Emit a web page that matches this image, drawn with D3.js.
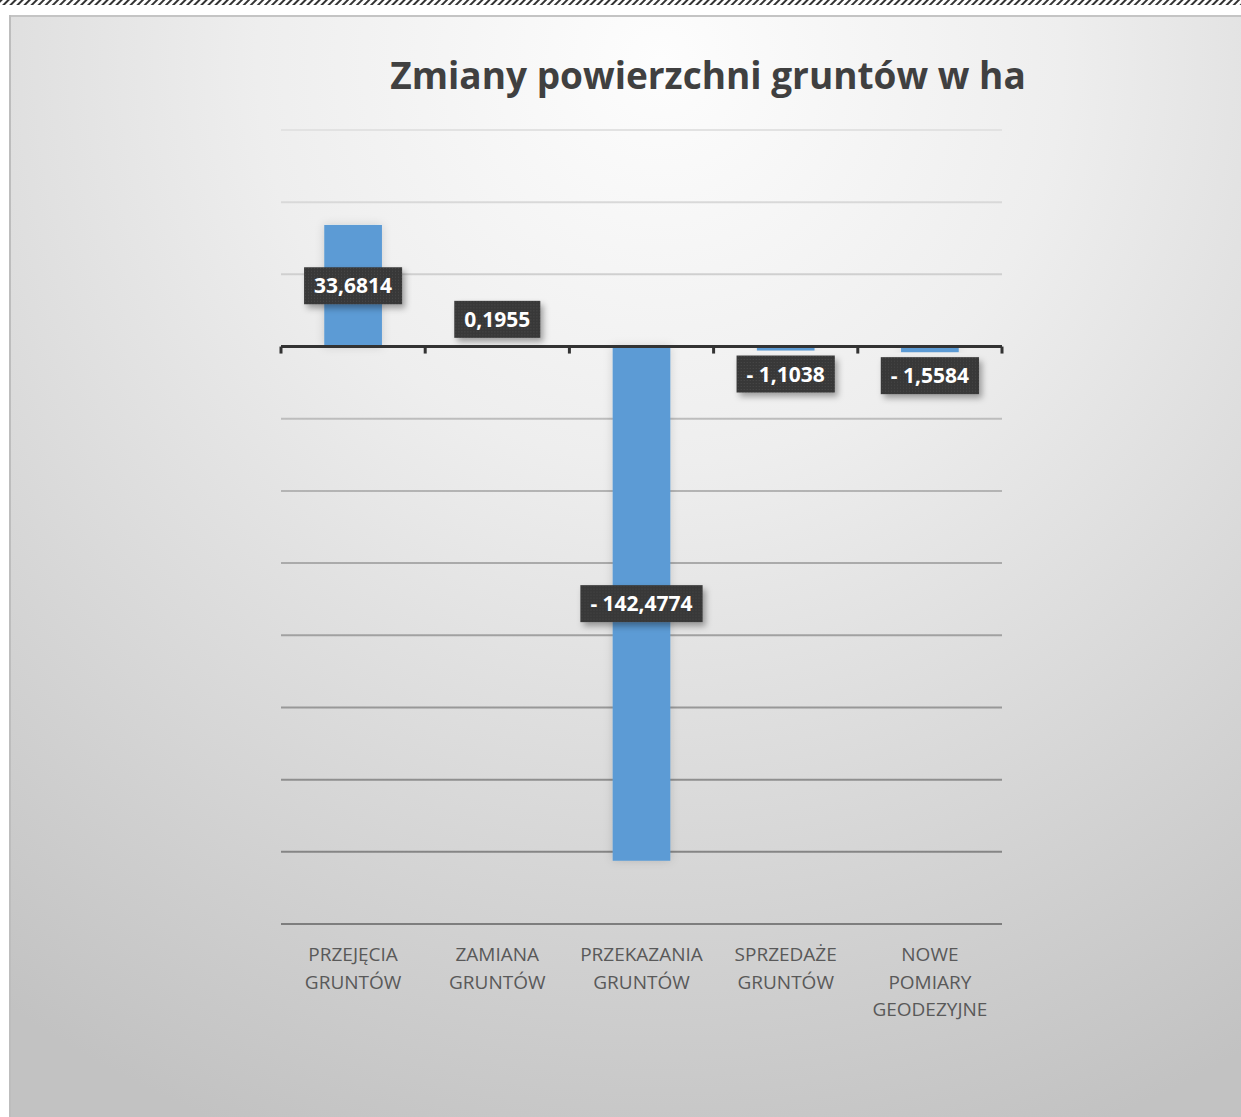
<!DOCTYPE html>
<html>
<head>
<meta charset="utf-8">
<script src="https://cdn.jsdelivr.net/npm/d3@7"></script>
<style>
  body { margin: 0; background: #fff; }
  svg { display: block; }
</style>
</head>
<body>
<script>
// chart data
var categories = [
  ["PRZEJĘCIA", "GRUNTÓW"],
  ["ZAMIANA", "GRUNTÓW"],
  ["PRZEKAZANIA", "GRUNTÓW"],
  ["SPRZEDAŻE", "GRUNTÓW"],
  ["NOWE", "POMIARY", "GEODEZYJNE"]
];
var values = [33.6814, 0.1955, -142.4774, -1.1038, -1.5584];
var yTicks = [-160, -140, -120, -100, -80, -60, -40, -20, 0, 20, 40, 60];
var title = "Zmiany powierzchni gruntów w ha";

// canvas magic numbers
var w = 1241;
var h = 1117;
var plotLeft = 281;
var plotRight = 1002;
var plotTop = 130;
var plotBottom = 924;

var svg = d3.select("body").append("svg")
    .attr("width", w)
    .attr("height", h);

var defs = svg.append("defs");

// hatched strip at the very top
var hatch = defs.append("pattern")
    .attr("id", "hatch")
    .attr("patternUnits", "userSpaceOnUse")
    .attr("width", 5).attr("height", 5)
    .attr("patternTransform", "rotate(45)");
hatch.append("rect").attr("width", 5).attr("height", 5).attr("fill", "#fff");
hatch.append("rect").attr("width", 2).attr("height", 5).attr("fill", "#333");

// background gradient of the chart area
var bg = defs.append("radialGradient")
    .attr("id", "bg")
    .attr("gradientUnits", "userSpaceOnUse")
    .attr("cx", 660).attr("cy", 60)
    .attr("r", 1150);
bg.append("stop").attr("offset", "0%").attr("stop-color", "#fdfdfd");
bg.append("stop").attr("offset", "35%").attr("stop-color", "#eeeeee");
bg.append("stop").attr("offset", "100%").attr("stop-color", "#c2c2c2");

// gridline colour fades from top to bottom
var gridGrad = defs.append("linearGradient")
    .attr("id", "gridGrad")
    .attr("gradientUnits", "userSpaceOnUse")
    .attr("x1", 0).attr("y1", plotTop).attr("x2", 0).attr("y2", plotBottom);
gridGrad.append("stop").attr("offset", "0%").attr("stop-color", "#e2e2e2");
gridGrad.append("stop").attr("offset", "100%").attr("stop-color", "#7c7c7c");

// dotted texture for label boxes
var dots = defs.append("pattern")
    .attr("id", "dots")
    .attr("patternUnits", "userSpaceOnUse")
    .attr("width", 3).attr("height", 3);
dots.append("rect").attr("width", 3).attr("height", 3).attr("fill", "#383838");
dots.append("rect").attr("width", 1).attr("height", 1).attr("fill", "#4a4a4a");

var shadow = defs.append("filter")
    .attr("id", "shadow")
    .attr("x", "-30%").attr("y", "-30%")
    .attr("width", "160%").attr("height", "180%");
shadow.append("feDropShadow")
    .attr("dx", 3).attr("dy", 4)
    .attr("stdDeviation", 3)
    .attr("flood-color", "#000")
    .attr("flood-opacity", 0.35);

var glow = defs.append("filter")
    .attr("id", "glow")
    .attr("x", "-40%").attr("y", "-10%")
    .attr("width", "180%").attr("height", "120%");
glow.append("feDropShadow")
    .attr("dx", 0).attr("dy", 0)
    .attr("stdDeviation", 5)
    .attr("flood-color", "#000")
    .attr("flood-opacity", 0.15);

svg.append("rect")
    .attr("x", 0).attr("y", 0)
    .attr("width", w).attr("height", 5)
    .attr("fill", "url(#hatch)");

// frame
svg.append("rect")
    .attr("x", 9).attr("y", 15)
    .attr("width", w - 9).attr("height", h - 15)
    .attr("fill", "url(#bg)");
svg.append("line")
    .attr("x1", 9).attr("x2", w).attr("y1", 16).attr("y2", 16)
    .attr("stroke", "#c4c4c4").attr("stroke-width", 2);
svg.append("line")
    .attr("x1", 10).attr("x2", 10).attr("y1", 15).attr("y2", h)
    .attr("stroke", "#bdbdbd").attr("stroke-width", 2);

// title
svg.append("text")
    .attr("x", 708)
    .attr("y", 89)
    .attr("text-anchor", "middle")
    .attr("font-family", "'Open Sans', sans-serif")
    .attr("font-weight", "bold")
    .attr("font-size", 37)
    .attr("fill", "#404040")
    .text(title);

// scales
var x = d3.scaleBand()
    .domain(d3.range(values.length))
    .range([plotLeft, plotRight])
    .paddingInner(0.6)
    .paddingOuter(0.3);

var y = d3.scaleLinear()
    .domain([-160, 60])
    .range([plotBottom, plotTop]);

// gridlines
svg.append("g")
    .selectAll("line")
    .data(yTicks.filter(function(d) { return d !== 0; }))
    .enter().append("line")
    .attr("x1", plotLeft).attr("x2", plotRight)
    .attr("y1", function(d) { return y(d); })
    .attr("y2", function(d) { return y(d); })
    .attr("stroke", "url(#gridGrad)")
    .attr("stroke-width", 2);
svg.append("line")
    .attr("x1", plotLeft).attr("x2", plotRight)
    .attr("y1", y(-160)).attr("y2", y(-160))
    .attr("stroke", "#7e7e7e")
    .attr("stroke-width", 2);

// bars
svg.append("g")
    .selectAll("rect")
    .data(values)
    .enter().append("rect")
    .attr("x", function(d, i) { return x(i); })
    .attr("y", function(d) { return y(Math.max(0, d)); })
    .attr("width", x.bandwidth())
    .attr("height", function(d) { return Math.max(1, Math.abs(y(d) - y(0))); })
    .attr("fill", "#5b9bd5")
    .attr("filter", "url(#glow)");

// zero axis with ticks at the category boundaries
var step = x.step();
var bounds = d3.range(values.length + 1).map(function(i) { return plotLeft + i * step; });
var axis = svg.append("g");
axis.append("line")
    .attr("x1", plotLeft).attr("x2", plotRight)
    .attr("y1", y(0)).attr("y2", y(0))
    .attr("stroke", "#333")
    .attr("stroke-width", 3);
axis.selectAll("line.tick")
    .data(bounds)
    .enter().append("line")
    .attr("class", "tick")
    .attr("x1", function(d) { return d; })
    .attr("x2", function(d) { return d; })
    .attr("y1", y(0))
    .attr("y2", y(0) + 7)
    .attr("stroke", "#333")
    .attr("stroke-width", 3);

// category labels
var catG = svg.append("g")
    .selectAll("text")
    .data(categories)
    .enter().append("text")
    .attr("text-anchor", "middle")
    .attr("font-family", "'Open Sans', sans-serif")
    .attr("font-size", 19)
    .attr("fill", "#595959");
catG.selectAll("tspan")
    .data(function(d, i) { return d.map(function(s) { return {s: s, i: i}; }); })
    .enter().append("tspan")
    .attr("x", function(d) { return x(d.i) + x.bandwidth() / 2; })
    .attr("y", function(d, j) { return 961 + j * 27.5; })
    .text(function(d) { return d.s; });

// data labels
var num = d3.formatLocale({decimal: ",", thousands: " ", grouping: [3], currency: ["", ""]}).format(".4f");
function fmtVal(v) { return v < 0 ? "- " + num(-v) : num(v); }

var boxH = 37;
var labels = svg.append("g")
    .selectAll("g")
    .data(values)
    .enter().append("g")
    .attr("transform", function(d, i) {
        var cx = x(i) + x.bandwidth() / 2;
        var barLen = Math.abs(y(d) - y(0));
        var cy;
        if (barLen > boxH + 10) cy = (y(d) + y(0)) / 2;
        else if (d >= 0) cy = y(d) - 8 - boxH / 2;
        else cy = y(d) + 5 + boxH / 2;
        return "translate(" + cx + "," + cy + ")";
    });

labels.append("text")
    .attr("text-anchor", "middle")
    .attr("dy", "0.36em")
    .attr("font-family", "'Open Sans', sans-serif")
    .attr("font-weight", "bold")
    .attr("font-size", 21)
    .attr("fill", "#fff")
    .text(fmtVal);

labels.each(function() {
    var g = d3.select(this);
    var bb = g.select("text").node().getBBox();
    g.insert("rect", "text")
        .attr("x", -bb.width / 2 - 10)
        .attr("y", -boxH / 2)
        .attr("width", bb.width + 20)
        .attr("height", boxH)
        .attr("fill", "url(#dots)")
        .attr("filter", "url(#shadow)");
});
</script>
</body>
</html>
